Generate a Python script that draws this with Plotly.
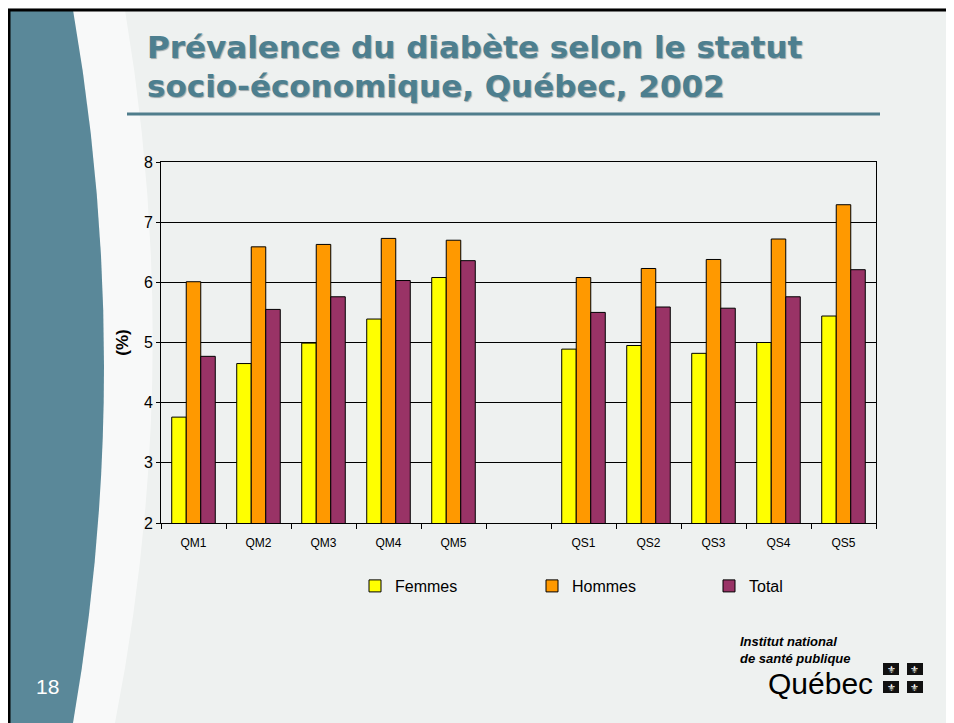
import plotly.graph_objects as go

# data
categories = ["QM1", "QM2", "QM3", "QM4", "QM5", " ", "QS1", "QS2", "QS3", "QS4", "QS5"]
femmes = [3.76, 4.65, 4.99, 5.39, 6.08, None, 4.89, 4.95, 4.82, 5.00, 5.44]
hommes = [6.01, 6.59, 6.63, 6.73, 6.70, None, 6.08, 6.23, 6.38, 6.72, 7.29]
total = [4.77, 5.55, 5.76, 6.03, 6.36, None, 5.50, 5.59, 5.57, 5.76, 6.21]

series = [("Femmes", femmes, "#FFFF00"),
          ("Hommes", hommes, "#FF9900"),
          ("Total", total, "#993366")]

# plot area in screen pixels (page has an 8px body margin)
OFF = 8
L, R, T, B = 161, 876, 162, 523
W, H = R - L, B - T


def px(x):
    return (x - L) / W


def py(y):
    return (B - y) / H


fig = go.Figure()
for name, vals, col in series:
    fig.add_trace(go.Bar(
        x=categories, y=vals, name=name,
        marker=dict(color=col, line=dict(color="black", width=1)),
    ))

shapes = []
# teal band on the left
band = (f"M {px(8)},{py(10)} L {px(73)},{py(10)} "
        f"Q {px(135)},{py(366)} {px(73)},{py(723)} L {px(8)},{py(723)} Z")
glow = (f"M {px(73)},{py(10)} L {px(125)},{py(10)} "
        f"Q {px(185)},{py(366)} {px(115)},{py(723)} L {px(73)},{py(723)} "
        f"Q {px(135)},{py(366)} {px(73)},{py(10)} Z")
shapes.append(dict(type="path", path=glow, xref="paper", yref="paper",
                   fillcolor="rgba(255,255,255,0.6)", line=dict(width=0), layer="below"))
shapes.append(dict(type="path", path=band, xref="paper", yref="paper",
                   fillcolor="#5a8899", line=dict(width=0), layer="below"))
# slide frame
shapes.append(dict(type="line", xref="paper", yref="paper", x0=px(8), x1=px(960),
                   y0=py(10), y1=py(10), line=dict(color="black", width=3)))
shapes.append(dict(type="line", xref="paper", yref="paper", x0=px(9), x1=px(9),
                   y0=py(9), y1=py(730), line=dict(color="black", width=3)))
# rule under title
shapes.append(dict(type="line", xref="paper", yref="paper", x0=px(127), x1=px(880),
                   y0=py(114), y1=py(114), line=dict(color="#4f7d8c", width=3)))
# Quebec flag squares
flag = [(891, 669), (915, 669), (891, 687), (915, 687)]
for cx, cy in flag:
    shapes.append(dict(type="rect", xref="paper", yref="paper",
                       x0=px(cx - 8), x1=px(cx + 8), y0=py(cy - 6), y1=py(cy + 6),
                       fillcolor="#111111", line=dict(width=0)))

title_font = dict(family="DejaVu Sans", size=31, color="#4d7f8f",
                  weight="bold", shadow="1px 1px 1px #9aa5a8")
annotations = [
    dict(text="Prévalence du diabète selon le statut", x=px(145), y=py(47),
         xanchor="left", yanchor="middle", font=title_font),
    dict(text="socio-économique, Québec, 2002", x=px(145), y=py(86),
         xanchor="left", yanchor="middle", font=title_font),
    dict(text="18", x=px(47), y=py(686), xanchor="center", yanchor="middle",
         font=dict(family="Arial, Liberation Sans", size=21, color="white")),
    dict(text="<b><i>Institut national<br>de santé publique</i></b>", x=px(738), y=py(650),
         xanchor="left", yanchor="middle", align="left",
         font=dict(family="Arial, Liberation Sans", size=13, color="black")),
    dict(text="Québec", x=px(875), y=py(683), xanchor="right", yanchor="middle",
         font=dict(family="Arial, Liberation Sans", size=30, color="black")),
]
for cx, cy in flag:
    annotations.append(dict(text="⚜", x=px(cx), y=py(cy), xanchor="center", yanchor="middle",
                            font=dict(family="DejaVu Sans", size=10, color="white")))
for a in annotations:
    a.update(xref="paper", yref="paper", showarrow=False)

fig.update_layout(
    width=954, height=723,
    margin=dict(l=L - OFF, r=954 - (R - OFF), t=T - OFF, b=723 - (B - OFF), autoexpand=False),
    paper_bgcolor="#eef1f0",
    plot_bgcolor="rgba(0,0,0,0)",
    barmode="group", bargap=0.33, bargroupgap=0,
    font=dict(family="Arial, Liberation Sans", color="black"),
    shapes=shapes, annotations=annotations,
    legend=dict(orientation="h", x=px(355), y=py(569), xanchor="left", yanchor="top",
                entrywidth=132, entrywidthmode="pixels",
                font=dict(size=16, color="black"), bgcolor="rgba(0,0,0,0)"),
    xaxis=dict(type="category", categoryorder="array", categoryarray=categories,
               showline=True, linecolor="black", linewidth=1, mirror=True,
               ticks="outside", tickson="boundaries", ticklen=5, tickcolor="black",
               ticklabelstandoff=9, tickfont=dict(size=12), showgrid=False),
    yaxis=dict(range=[2, 8], dtick=1, showline=True, linecolor="black", linewidth=1,
               mirror=True, ticks="outside", ticklen=4, tickcolor="black",
               gridcolor="black", gridwidth=1, tickfont=dict(size=16), zeroline=False,
               title=dict(text="<b>(%)</b>", font=dict(size=17), standoff=10)),
)

fig.write_html("out.html")
